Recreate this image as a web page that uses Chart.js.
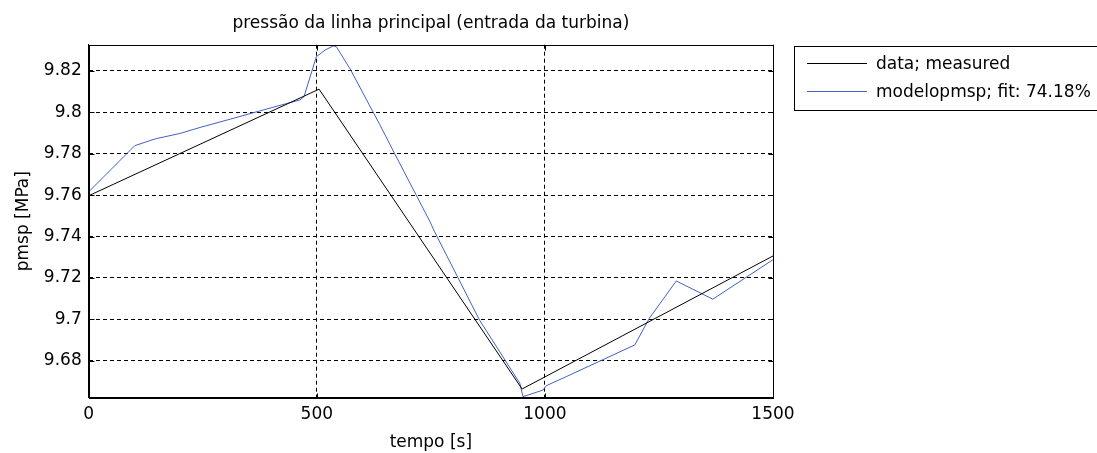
<!DOCTYPE html>
<html>
<head>
<meta charset="utf-8">
<script src="https://cdn.jsdelivr.net/npm/chart.js@4/dist/chart.umd.min.js"></script>
<style>
  html, body { margin: 0; padding: 0; background: #fff; }
  #wrap { width: 1097px; height: 453px; }
</style>
</head>
<body>
<div id="wrap"><canvas id="pmsp-chart" width="1097" height="453"></canvas></div>
<script>
// measured main steam pressure (piecewise record)
const timeMeasured = [0, 505, 950, 1500];
const pmspMeasured = [9.7597, 9.8112, 9.6663, 9.7306];

// simulated output of modelopmsp
const timeModel = [0, 101, 146, 200, 244, 310, 375, 463, 472, 499, 518, 536, 543, 573, 638, 671, 718, 748, 758, 857, 945, 952, 996, 1003, 1047, 1197, 1229, 1288, 1368, 1500];
const pmspModel = [9.7616, 9.7839, 9.7872, 9.7898, 9.7927, 9.7967, 9.8007, 9.8060, 9.8076, 9.8269, 9.8301, 9.8321, 9.8317, 9.8210, 9.7941, 9.7799, 9.7600, 9.7472, 9.7424, 9.6995, 9.6691, 9.6626, 9.6658, 9.6679, 9.6723, 9.6876, 9.7005, 9.7185, 9.7097, 9.7288];

const xTicks = [0, 500, 1000, 1500];
const yTicks = [9.68, 9.70, 9.72, 9.74, 9.76, 9.78, 9.80, 9.82];

const FONT = 'DejaVu Sans';

function points(xs, ys) {
  return xs.map((x, i) => ({ x: x, y: ys[i] }));
}

// box, inward ticks, title and legend drawn the MATLAB way
const matlabFrame = {
  id: 'matlabFrame',
  afterDraw(chart) {
    const ctx = chart.ctx;
    const a = chart.chartArea;
    const sx = chart.scales.x, sy = chart.scales.y;
    ctx.save();
    ctx.strokeStyle = '#000';
    ctx.lineWidth = 1;
    ctx.setLineDash([]);
    const L = Math.round(a.left) + 0.5, R = Math.round(a.right) + 0.5;
    const T = Math.round(a.top) + 0.5, B = Math.round(a.bottom) + 0.5;
    ctx.strokeRect(L, T, R - L, B - T);

    ctx.beginPath();
    xTicks.forEach(v => {
      const px = Math.round(sx.getPixelForValue(v)) + 0.5;
      ctx.moveTo(px, B); ctx.lineTo(px, B - 5);
      ctx.moveTo(px, T); ctx.lineTo(px, T + 5);
    });
    yTicks.forEach(v => {
      const py = Math.round(sy.getPixelForValue(v)) + 0.5;
      ctx.moveTo(L, py); ctx.lineTo(L + 5, py);
      ctx.moveTo(R, py); ctx.lineTo(R - 5, py);
    });
    ctx.stroke();

    ctx.fillStyle = '#000';
    ctx.font = '17px "' + FONT + '"';
    ctx.textAlign = 'center';
    ctx.textBaseline = 'middle';
    ctx.fillText('pressão da linha principal (entrada da turbina)', (a.left + a.right) / 2, 24);

    // legend
    ctx.strokeRect(794.5, 46.5, 310, 64);
    ctx.textAlign = 'left';
    chart.data.datasets.forEach((ds, i) => {
      const y = 63.5 + i * 28;
      ctx.strokeStyle = ds.borderColor;
      ctx.beginPath();
      ctx.moveTo(807, y); ctx.lineTo(867, y);
      ctx.stroke();
      ctx.fillText(ds.label, 876, y + 1);
    });
    ctx.restore();
  }
};

new Chart(document.getElementById('pmsp-chart').getContext('2d'), {
  type: 'line',
  data: {
    datasets: [{
      label: 'data; measured',
      data: points(timeMeasured, pmspMeasured),
      borderColor: '#000000',
      borderWidth: 1,
      pointRadius: 0,
      tension: 0
    }, {
      label: 'modelopmsp; fit: 74.18%',
      data: points(timeModel, pmspModel),
      borderColor: '#4262c4',
      borderWidth: 1,
      pointRadius: 0,
      tension: 0
    }]
  },
  options: {
    responsive: false,
    animation: false,
    layout: { padding: { left: 0, top: 44.7, right: 324, bottom: 0 } },
    plugins: {
      legend: { display: false },
      title: { display: false },
      tooltip: { enabled: false }
    },
    scales: {
      x: {
        type: 'linear',
        min: 0,
        max: 1500,
        afterBuildTicks: s => { s.ticks = xTicks.map(v => ({ value: v })); },
        afterFit: s => { s.height = 453 - 397.7; },
        grid: { color: '#000', lineWidth: 1, drawTicks: false },
        border: { display: true, color: '#000', dash: [4, 3] },
        ticks: {
          color: '#000',
          padding: 7,
          font: { family: FONT, size: 17 },
          callback: v => String(v)
        },
        title: { display: true, text: 'tempo [s]', color: '#000', padding: { top: 0, bottom: 0 }, font: { family: FONT, size: 17 } }
      },
      y: {
        min: 9.6621,
        max: 9.8327,
        afterBuildTicks: s => { s.ticks = yTicks.map(v => ({ value: v })); },
        afterFit: s => { s.width = 88.7; },
        grid: { color: '#000', lineWidth: 1, drawTicks: false },
        border: { display: true, color: '#000', dash: [4, 3] },
        ticks: {
          color: '#000',
          padding: 7,
          font: { family: FONT, size: 17 },
          callback: v => String(+v.toFixed(2))
        },
        title: { display: true, text: 'pmsp [MPa]', color: '#000', padding: { top: 13, bottom: 0 }, font: { family: FONT, size: 17 } }
      }
    }
  },
  plugins: [matlabFrame]
});
</script>
</body>
</html>
